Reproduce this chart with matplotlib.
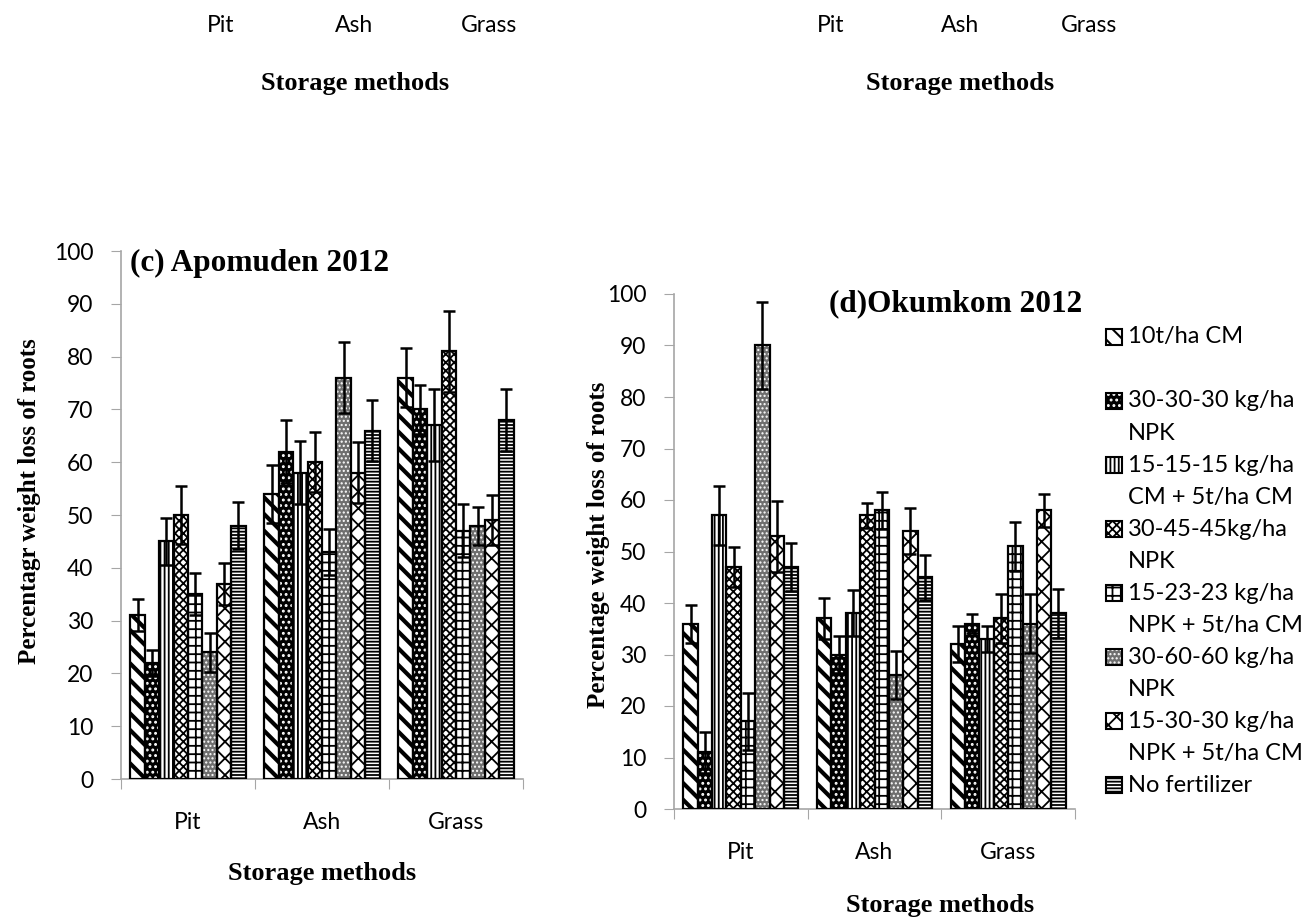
import matplotlib
matplotlib.use('Agg')
import matplotlib.pyplot as plt
from matplotlib.patches import Rectangle
import numpy as np

W, H = 1303, 918

storage = ['Pit', 'Ash', 'Grass']
treatments = ['10t/ha CM', '30-30-30 kg/ha\nNPK', '15-15-15 kg/ha\nCM + 5t/ha CM',
              '30-45-45kg/ha\nNPK', '15-23-23 kg/ha\nNPK + 5t/ha CM', '30-60-60 kg/ha\nNPK',
              '15-30-30 kg/ha\nNPK + 5t/ha CM', 'No fertilizer']

# (c) Apomuden 2012 -- rows: treatments, cols: Pit, Ash, Grass
apo_mean = [[31, 54, 76], [22, 62, 70], [45, 58, 67], [50, 60, 81],
            [35, 43, 47], [24, 76, 48], [37, 58, 49], [48, 66, 68]]
apo_err = [[3.0, 5.5, 5.6], [2.5, 6.0, 4.7], [4.5, 6.0, 6.8], [5.5, 5.7, 7.7],
           [4.0, 4.4, 5.0], [3.7, 6.7, 3.6], [4.0, 5.8, 4.7], [4.5, 5.7, 5.9]]

# (d) Okumkom 2012
oku_mean = [[36, 37, 32], [11, 30, 36], [57, 38, 33], [47, 57, 37],
            [17, 58, 51], [90, 26, 36], [53, 54, 58], [47, 45, 38]]
oku_err = [[3.7, 3.9, 3.5], [4.0, 3.6, 1.9], [5.7, 4.5, 2.6], [3.9, 2.5, 4.8],
           [5.6, 3.6, 4.7], [8.5, 4.7, 5.8], [6.9, 4.4, 3.2], [4.7, 4.4, 4.7]]

# face colour, hatch colour, hatch pattern, hatch line width
styles = [('white', 'black', '\\\\', 3.0),
          ('black', 'white', '...', 1.3),
          ('white', 'black', '||||', 1.3),
          ('white', 'black', 'xxxx', 1.3),
          ('white', 'black', '++', 1.3),
          ('#6f6f6f', 'white', '....', 1.0),
          ('white', 'black', 'xx', 1.3),
          ('white', 'black', '-----', 1.3)]

sans = 'Lato'
serif = 'Liberation Serif'
grey = '#a6a6a6'
plt.rcParams['hatch.linewidth'] = 1.3

fig = plt.figure(figsize=(W / 100, H / 100), dpi=100)


def set_hlw(patch, lw):
    if hasattr(patch, 'set_hatch_linewidth'):
        patch.set_hatch_linewidth(lw)


def px_axes(x0, y0, x1, y1):
    return fig.add_axes([x0 / W, 1 - y1 / H, (x1 - x0) / W, (y1 - y0) / H])


def draw_panel(ax, means, errs):
    n = len(means)
    w = 0.86 / n
    centers = np.arange(len(storage)) + 0.5
    for i, (face, hcol, hatch, hlw) in enumerate(styles):
        x = centers + (i - (n - 1) / 2) * w
        bars = ax.bar(x, means[i], w, color=face, edgecolor=hcol, hatch=hatch, linewidth=0, zorder=2)
        for b in bars:
            set_hlw(b, hlw)
        ax.bar(x, means[i], w, facecolor='none', edgecolor='black', linewidth=1.6, zorder=3)
        ax.errorbar(x, means[i], yerr=errs[i], fmt='none', ecolor='black',
                    elinewidth=1.8, capsize=4.5, capthick=1.8, zorder=4)
    ax.set_xlim(0, 3)
    ax.set_ylim(0, 100)
    ax.set_yticks(range(0, 101, 10))
    ax.set_xticks([0, 1, 2, 3])
    ax.set_xticklabels([])
    ax.set_xticks(centers, minor=True)
    ax.set_xticklabels(storage, minor=True)
    ax.tick_params(axis='x', which='major', length=7, color=grey, direction='out')
    ax.tick_params(axis='x', which='minor', length=0, pad=24, labelsize=16.5)
    ax.tick_params(axis='y', length=7, color=grey, pad=13, labelsize=16.5)
    for lab in ax.get_xticklabels(minor=True) + ax.get_yticklabels():
        lab.set_fontfamily(sans)
    for s in ['top', 'right']:
        ax.spines[s].set_visible(False)
    for s in ['left', 'bottom']:
        ax.spines[s].set_color(grey)
        ax.spines[s].set_linewidth(1.2)


ax1 = px_axes(121, 251, 523, 779)
draw_panel(ax1, apo_mean, apo_err)
ax2 = px_axes(674, 294, 1075, 809)
draw_panel(ax2, oku_mean, oku_err)


def ftext(x, y, s, **kw):
    fig.text(x / W, 1 - y / H, s, **kw)


bold = dict(family=serif, fontweight='bold')
ftext(130, 263, '(c) Apomuden 2012', fontsize=22.5, va='center', ha='left', **bold)
ftext(829, 304, '(d)Okumkom 2012', fontsize=22.5, va='center', ha='left', **bold)
ftext(322, 880, 'Storage methods', fontsize=19, va='baseline', ha='center', **bold)
ftext(940, 912, 'Storage methods', fontsize=19, va='baseline', ha='center', **bold)
ftext(30, 501, 'Percentagr weight loss of roots', fontsize=18, rotation=90,
      va='center', ha='center', **bold)
ftext(598, 545, 'Percentage weight loss of roots', fontsize=18, rotation=90,
      va='center', ha='center', **bold)

# remnants of the upper panels
for xs in ([221, 354, 489], [831, 960, 1089]):
    for x, s in zip(xs, storage):
        ftext(x, 26, s, fontsize=16.5, family=sans, va='center', ha='center')
ftext(355, 90, 'Storage methods', fontsize=19, va='baseline', ha='center', **bold)
ftext(960, 90, 'Storage methods', fontsize=19, va='baseline', ha='center', **bold)

# legend
for i, (label, (face, hcol, hatch, hlw)) in enumerate(zip(treatments, styles)):
    y = 337 + 64.0 * i
    rx, ry, rs = 1106, y - 8, 16
    for kw in (dict(facecolor=face, edgecolor=hcol, hatch=hatch, linewidth=0),
               dict(facecolor='none', edgecolor='black', linewidth=1.5)):
        r = Rectangle((rx / W, 1 - (ry + rs) / H), rs / W, rs / H,
                      transform=fig.transFigure, **kw)
        if 'hatch' in kw:
            set_hlw(r, min(hlw, 1.5))
        fig.patches.append(r)
    for j, line in enumerate(label.split('\n')):
        ftext(1128, y + 32.3 * j, line, fontsize=17, family=sans, va='center', ha='left')

fig.savefig('out.png', dpi=100)
